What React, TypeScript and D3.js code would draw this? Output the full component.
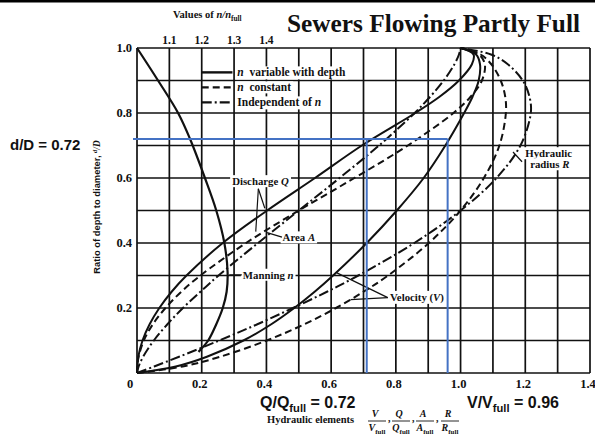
import { useEffect, useRef } from 'react';
import * as d3 from 'd3';

const WIDTH = 595;
const HEIGHT = 435;

const SERIF = "'Liberation Serif', 'Times New Roman', serif";
const SANS = "'Liberation Sans', Arial, sans-serif";

const depthRatio = [0, 0.02, 0.05, 0.1, 0.15, 0.2, 0.25, 0.3, 0.4, 0.5, 0.6, 0.7, 0.8, 0.85, 0.9, 0.95, 0.98, 1.0];

// hydraulic elements, one value per depth ratio
const dischargeNVar = [0, 0.001, 0.004, 0.017, 0.039, 0.069, 0.107, 0.153, 0.265, 0.402, 0.55, 0.695, 0.86, 0.935, 0.995, 1.035, 1.04, 1.0];
const dischargeNConst = [0, 0.001, 0.005, 0.021, 0.049, 0.088, 0.137, 0.196, 0.337, 0.5, 0.672, 0.837, 0.978, 1.031, 1.066, 1.075, 1.057, 1.0];
const velocityNVar = [0, 0.12, 0.216, 0.329, 0.415, 0.486, 0.549, 0.606, 0.71, 0.803, 0.886, 0.953, 1.011, 1.037, 1.056, 1.06, 1.048, 1.0];
const velocityNConst = [0, 0.141, 0.257, 0.401, 0.517, 0.615, 0.7, 0.776, 0.902, 1.0, 1.072, 1.12, 1.14, 1.138, 1.124, 1.095, 1.062, 1.0];
const areaRatio = [0, 0.005, 0.019, 0.052, 0.094, 0.142, 0.196, 0.252, 0.374, 0.5, 0.626, 0.748, 0.858, 0.906, 0.948, 0.981, 0.995, 1.0];
const radiusRatio = [0, 0.053, 0.13, 0.254, 0.372, 0.482, 0.587, 0.684, 0.857, 1.0, 1.111, 1.185, 1.217, 1.213, 1.192, 1.146, 1.094, 1.0];

// Manning n / n_full, read on the top scale
const manningDepth = [0.065, 0.1, 0.15, 0.2, 0.25, 0.31, 0.4, 0.5, 0.6, 0.72, 0.8, 0.9, 1.0];
const manningRatio = [1.19, 1.22, 1.245, 1.265, 1.277, 1.28, 1.27, 1.245, 1.21, 1.164, 1.127, 1.065, 1.0];

const gridX = [0, 0.1, 0.2, 0.3, 0.4, 0.5, 0.6, 0.7, 0.8, 0.9, 1.0, 1.1, 1.2, 1.3, 1.4];
const gridY = [0, 0.1, 0.2, 0.3, 0.4, 0.5, 0.6, 0.7, 0.8, 0.9, 1.0];
const bottomTicks = [0, 0.2, 0.4, 0.6, 0.8, 1.0, 1.2, 1.4];
const leftTicks = [0.2, 0.4, 0.6, 0.8, 1.0];
const topTicks = [1.1, 1.2, 1.3, 1.4];

// blue reading lines
const markDepth = 0.72;
const markDischarge = 0.71;
const markVelocity = 0.96;

type Part = { t: string; italic?: boolean; sub?: boolean; sup?: boolean };

export default function App() {
  const svgRef = useRef<SVGSVGElement | null>(null);

  useEffect(() => {
    if (!svgRef.current) return;
    const svg = d3.select(svgRef.current);
    svg.selectAll('*').remove();

    const x = d3.scaleLinear().domain([0, 1.4]).range([137, 590]);
    const nx = d3.scaleLinear().domain([1.0, 2.4]).range([137, 590]);
    const y = d3.scaleLinear().domain([0, 1]).range([373, 48]);

    svg.append('rect').attr('width', WIDTH).attr('height', HEIGHT).attr('fill', '#fff');
    svg.append('rect').attr('width', WIDTH).attr('height', 2.5).attr('fill', '#000');

    // grid
    const grid = svg.append('g').attr('stroke', '#111').attr('stroke-width', 1.7);
    grid
      .selectAll('line.v')
      .data(gridX)
      .enter()
      .append('line')
      .attr('x1', (d) => x(d))
      .attr('x2', (d) => x(d))
      .attr('y1', y(0))
      .attr('y2', y(1));
    grid
      .selectAll('line.h')
      .data(gridY)
      .enter()
      .append('line')
      .attr('x1', x(0))
      .attr('x2', x(1.4))
      .attr('y1', (d) => y(d))
      .attr('y2', (d) => y(d));

    // tick labels
    const tickText = (sel: any) =>
      sel.attr('font-family', SERIF).attr('font-weight', 700).attr('font-size', 12.5).attr('fill', '#111');

    svg
      .append('g')
      .selectAll('text')
      .data(bottomTicks)
      .enter()
      .append('text')
      .call(tickText)
      .attr('x', (d) => x(d) - (d === 0 ? 7 : 2))
      .attr('y', 388)
      .attr('text-anchor', 'middle')
      .text((d) => (d === 0 ? '0' : d.toFixed(1)));

    svg
      .append('g')
      .selectAll('text')
      .data(leftTicks)
      .enter()
      .append('text')
      .call(tickText)
      .attr('x', x(0) - 5)
      .attr('y', (d) => y(d) + 4)
      .attr('text-anchor', 'end')
      .text((d) => d.toFixed(1));

    svg
      .append('g')
      .selectAll('text')
      .data(topTicks)
      .enter()
      .append('text')
      .call(tickText)
      .attr('font-size', 11.5)
      .attr('x', (d) => nx(d))
      .attr('y', 44)
      .attr('text-anchor', 'middle')
      .text((d) => d.toFixed(1));

    // rich text helper
    const rich = (parent: any, px: number, py: number, parts: Part[], size: number, family = SERIF, box = false) => {
      const t = parent
        .append('text')
        .attr('x', px)
        .attr('y', py)
        .attr('font-family', family)
        .attr('font-weight', 700)
        .attr('font-size', size)
        .attr('fill', '#111')
        .style('white-space', 'pre');
      let shift = 0;
      parts.forEach((p) => {
        const target = p.sub ? size * 0.28 : p.sup ? -size * 0.3 : 0;
        const ts = t.append('tspan').text(p.t).attr('dy', target - shift);
        shift = target;
        if (p.italic) ts.attr('font-style', 'italic').attr('font-family', SERIF);
        if (p.sub || p.sup) ts.attr('font-size', size * 0.7);
      });
      if (box) {
        const bb = (t.node() as SVGTextElement).getBBox();
        parent
          .insert('rect', () => t.node())
          .attr('x', bb.x - 2)
          .attr('y', bb.y)
          .attr('width', bb.width + 4)
          .attr('height', bb.height)
          .attr('fill', '#fff');
      }
      return t;
    };

    // curves
    const line = d3
      .line<[number, number]>()
      .x((d) => x(d[0]))
      .y((d) => y(d[1]))
      .curve(d3.curveCatmullRom.alpha(0.5));

    const SOLID = 'none';
    const DASH = '7 4';
    const DASHDOT = '10 3 2 3';

    const curves: { values: number[]; dash: string }[] = [
      { values: dischargeNVar, dash: SOLID },
      { values: dischargeNConst, dash: DASH },
      { values: velocityNVar, dash: SOLID },
      { values: velocityNConst, dash: DASH },
      { values: areaRatio, dash: DASHDOT },
      { values: radiusRatio, dash: DASHDOT },
    ];

    const labels = svg.append('g');
    const leader = (x1: number, y1: number, x2: number, y2: number) =>
      labels
        .append('line')
        .attr('x1', x1)
        .attr('y1', y1)
        .attr('x2', x2)
        .attr('y2', y2)
        .attr('stroke', '#111')
        .attr('stroke-width', 1.2);

    // annotation labels (white knock-out behind text)
    rich(labels, x(0.294), y(0.578), [{ t: 'Discharge ' }, { t: 'Q', italic: true }], 10.8, SERIF, true);
    rich(labels, x(0.45), y(0.405), [{ t: 'Area ' }, { t: 'A', italic: true }], 10.8, SERIF, true);
    rich(labels, x(0.327), y(0.29), [{ t: 'Manning ' }, { t: 'n', italic: true }], 10.8, SERIF, true);
    rich(labels, x(0.782), y(0.222), [{ t: 'Velocity (' }, { t: 'V', italic: true }, { t: ')' }], 10.8, SERIF, true);
    rich(labels, x(1.2), y(0.664), [{ t: 'Hydraulic' }], 10.8, SERIF, true);
    rich(labels, x(1.215), y(0.63), [{ t: 'radius ' }, { t: 'R', italic: true }], 10.8, SERIF, true);

    leader(x(0.375), y(0.567), x(0.395), y(0.507));
    leader(x(0.375), y(0.567), x(0.367), y(0.435));
    leader(x(0.402), y(0.432), x(0.448), y(0.418));
    leader(x(0.285), y(0.302), x(0.324), y(0.302));
    leader(x(0.775), y(0.232), x(0.618), y(0.308));
    leader(x(0.775), y(0.232), x(0.66), y(0.226));
    leader(x(1.162), y(0.68), x(1.19), y(0.65));

    // legend
    const legendRows = [
      { dash: SOLID, parts: [{ t: 'n', italic: true }, { t: '  variable with depth' }] },
      { dash: DASH, parts: [{ t: 'n', italic: true }, { t: '  constant' }] },
      { dash: DASHDOT, parts: [{ t: 'Independent of ' }, { t: 'n', italic: true }] },
    ];
    const legend = svg.append('g');
    legendRows.forEach((row, i) => {
      const ly = y(0.925) + i * 15;
      rich(legend, x(0.31), ly + 4, row.parts, 11.5, SERIF, true);
      legend
        .append('line')
        .attr('x1', x(0.2))
        .attr('x2', x(0.295))
        .attr('y1', ly)
        .attr('y2', ly)
        .attr('stroke', '#111')
        .attr('stroke-width', 2.4)
        .attr('stroke-dasharray', row.dash);
    });

    const curveG = svg.append('g').attr('fill', 'none').attr('stroke', '#111');
    curves.forEach((c) => {
      const pts = c.values.map((v, i) => [v, depthRatio[i]] as [number, number]);
      curveG
        .append('path')
        .attr('d', line(pts))
        .attr('stroke-width', 2)
        .attr('stroke-dasharray', c.dash);
    });

    const manningLine = d3
      .line<[number, number]>()
      .x((d) => nx(d[0]))
      .y((d) => y(d[1]))
      .curve(d3.curveCatmullRom.alpha(0.5));
    curveG
      .append('path')
      .attr('d', manningLine(manningRatio.map((v, i) => [v, manningDepth[i]] as [number, number])))
      .attr('stroke-width', 2.2);

    // blue reading lines
    const blue = svg.append('g').attr('stroke', '#4472c4').attr('stroke-width', 2);
    blue.append('line').attr('x1', x(0) - 4).attr('x2', x(markVelocity)).attr('y1', y(markDepth)).attr('y2', y(markDepth));
    blue.append('line').attr('x1', x(markDischarge)).attr('x2', x(markDischarge)).attr('y1', y(markDepth)).attr('y2', y(0));
    blue.append('line').attr('x1', x(markVelocity)).attr('x2', x(markVelocity)).attr('y1', y(markDepth)).attr('y2', y(0));

    // titles
    rich(svg, 287, 32, [{ t: 'Sewers Flowing Partly Full' }], 25.3, SERIF);
    rich(svg, 173, 18, [{ t: 'Values of ' }, { t: 'n/n', italic: true }, { t: 'full', sub: true }], 10.5, SERIF);
    rich(svg, 10, 150, [{ t: 'd/D = 0.72' }], 15, SANS);

    const yTitle = svg.append('g').attr('transform', 'translate(100,207) rotate(-90)');
    rich(yTitle, 0, 0, [{ t: 'Ratio of depth to diameter, ' }, { t: 'd', italic: true, sup: true }, { t: '/D', italic: true }], 9.4, SANS).attr(
      'text-anchor',
      'middle'
    );

    rich(svg, 260, 408, [{ t: 'Q/Q' }, { t: 'full', sub: true }, { t: ' = 0.72' }], 16, SANS);
    rich(svg, 467, 408, [{ t: 'V/V' }, { t: 'full', sub: true }, { t: ' = 0.96' }], 16, SANS);
    rich(svg, 267, 423, [{ t: 'Hydraulic elements' }], 10.5, SERIF);

    const fractions = ['V', 'Q', 'A', 'R'];
    const fracX = [377, 401, 425, 450];
    fractions.forEach((f, i) => {
      const cx = fracX[i];
      svg
        .append('text')
        .attr('x', cx - 2)
        .attr('y', 417)
        .attr('text-anchor', 'middle')
        .attr('font-family', SERIF)
        .attr('font-style', 'italic')
        .attr('font-weight', 700)
        .attr('font-size', 10)
        .attr('fill', '#111')
        .text(f);
      svg.append('line').attr('x1', cx - 9).attr('x2', cx + 9).attr('y1', 421).attr('y2', 421).attr('stroke', '#111').attr('stroke-width', 0.9);
      const den = rich(svg, cx, 431, [{ t: f, italic: true }, { t: 'full', sub: true }], 10, SERIF).attr('text-anchor', 'middle');
      den.select('tspan:last-child').attr('font-size', 7);
      if (i < 3) {
        svg
          .append('text')
          .attr('x', cx + 11)
          .attr('y', 422)
          .attr('font-family', SERIF)
          .attr('font-weight', 700)
          .attr('font-size', 10)
          .attr('fill', '#111')
          .text(',');
      }
    });
  }, []);

  return (
    <svg
      ref={svgRef}
      width={WIDTH}
      height={HEIGHT}
      viewBox={`0 0 ${WIDTH} ${HEIGHT}`}
      style={{ position: 'absolute', left: 0, top: 0, display: 'block' }}
    />
  );
}
